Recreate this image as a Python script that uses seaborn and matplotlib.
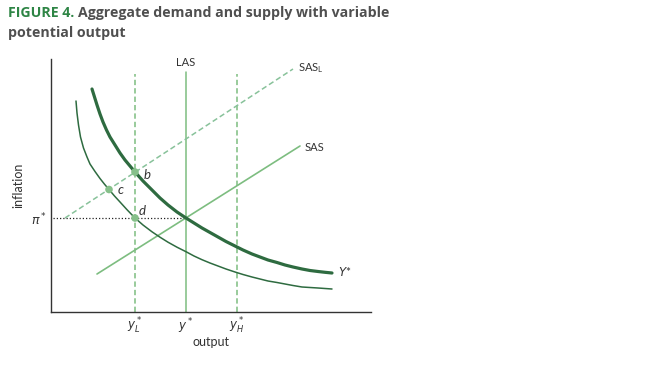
import matplotlib
matplotlib.use("Agg")
import matplotlib.pyplot as plt
import seaborn as sns
import pandas as pd

# chart values (x = output units, y = inflation units)
y_low, y_star, y_high = 84, 135, 186
pi_star = 94

# upper AD curve (Y*)
ad_hi_x = [41, 43.5, 46, 49, 52, 55.5, 59, 64, 69, 74, 79, 84, 92, 101, 109, 117, 126, 135,
           143, 151, 159, 167, 175, 184, 192, 201, 209, 217, 226, 234, 242, 251, 259, 267, 274, 281]
ad_hi_y = [223, 215, 207, 198, 190, 182, 175, 167, 159, 152, 146, 140, 131, 122, 114, 107, 100, 94,
           89, 84, 79.5, 75, 70.5, 66, 62, 58, 55, 52, 49.5, 47, 45, 43, 41.5, 40.5, 39.7, 39]

# lower AD curve
ad_lo_x = [25, 26, 27.5, 29.5, 32.5, 36, 39, 44, 49, 53.5, 58, 63.5, 69, 76, 84, 92, 101, 109, 117,
           126, 135, 143, 151, 159, 167, 175, 184, 192, 201, 209, 217, 226, 234, 242, 251, 259, 267, 274, 281]
ad_lo_y = [211, 199, 187, 175, 164, 155, 148, 140.5, 133.5, 127.8, 122.5, 116, 110, 102.3, 94, 87, 80.2, 74.8, 69.8,
           64.8, 60.3, 56, 52.3, 49, 46, 43, 40, 37.5, 35, 33, 31, 29.5, 28, 26.5, 25, 24.5, 24, 23.5, 23]

# supply lines (end points)
sas_x = [46, 249]
sas_y = [38, 166]
sasl_x = [14, 242]
sasl_y = [94, 243]
vert_top = [238, 240, 238]

# labelled points
pt_labels = ["b", "c", "d"]
pt_x = [84, 58, 84]
pt_y = [140, 122.5, 94]

dark = "#2e6b40"
light = "#7dbd80"
light_dash = "#88c29a"
txt = "#333333"

sns.set_style("white")
plt.rcParams["font.family"] = ["Lato", "DejaVu Sans"]
plt.rcParams["mathtext.fontset"] = "dejavusans"

fig = plt.figure(figsize=(6.66, 3.84), dpi=100)
ax = fig.add_axes([51 / 666, 72 / 384, 320 / 666, 253 / 384])

hi = pd.DataFrame({"x": ad_hi_x, "y": ad_hi_y})
lo = pd.DataFrame({"x": ad_lo_x, "y": ad_lo_y})
sas = pd.DataFrame({"x": sas_x, "y": sas_y})
sasl = pd.DataFrame({"x": sasl_x, "y": sasl_y})

# verticals: potential output lines
for xv, top, solid in zip([y_low, y_star, y_high], vert_top, [False, True, False]):
    v = pd.DataFrame({"x": [xv, xv], "y": [0, top]})
    sns.lineplot(data=v, x="x", y="y", ax=ax, color=light, lw=1.1,
                 sort=False, estimator=None,
                 linestyle="-" if solid else (0, (3.5, 2)))

# pi* dotted
pi_df = pd.DataFrame({"x": [2, y_star], "y": [pi_star, pi_star]})
sns.lineplot(data=pi_df, x="x", y="y", ax=ax, color="#222222", lw=0.9,
             linestyle=(0, (1, 1.6)), sort=False, estimator=None)

sns.lineplot(data=sasl, x="x", y="y", ax=ax, color=light_dash, lw=1.1,
             linestyle=(0, (3.5, 2)), sort=False, estimator=None)
sns.lineplot(data=sas, x="x", y="y", ax=ax, color=light, lw=1.2,
             sort=False, estimator=None)
sns.lineplot(data=lo, x="x", y="y", ax=ax, color=dark, lw=1.1,
             sort=False, estimator=None, solid_joinstyle="round")
sns.lineplot(data=hi, x="x", y="y", ax=ax, color=dark, lw=2.3,
             sort=False, estimator=None, solid_joinstyle="round")

pts = pd.DataFrame({"x": pt_x, "y": pt_y, "lab": pt_labels})
sns.scatterplot(data=pts, x="x", y="y", ax=ax, color="#86c08a", s=30,
                edgecolor="none", zorder=5)
offsets = {"b": (8.4, -2.2), "c": (8.4, 0), "d": (5.3, 5.2)}
for lab, px, py in zip(pt_labels, pt_x, pt_y):
    ax.annotate(lab, (px, py), xytext=offsets[lab], textcoords="offset points",
                ha="center", va="center", fontsize=9.5, style="italic", color=txt)

# line labels
ax.text(y_star, 249, "LAS", ha="center", va="center", fontsize=8, color=txt)
ax.text(247, 244, r"SAS$_\mathregular{L}$", ha="left", va="center", fontsize=8, color=txt)
ax.text(254, 165, "SAS", ha="left", va="center", fontsize=8, color=txt)
ax.text(287, 40, "$Y$*", ha="left", va="center", fontsize=8.5, color=txt)

ax.set_xlim(0, 320)
ax.set_ylim(0, 253)
ax.set_xticks([y_low, y_star, y_high])
ax.set_xticklabels([r"$y^*_L$", r"$y^*$", r"$y^*_H$"], fontsize=8.5, color=txt)
ax.set_yticks([pi_star])
ax.set_yticklabels([r"$\pi^*$"], fontsize=9, color=txt)
ax.tick_params(length=0, pad=3)
ax.set_xlabel("output", fontsize=9, color=txt, labelpad=0)
ax.set_ylabel("inflation", fontsize=9, color=txt, labelpad=5)
sns.despine(ax=ax)
for s in ["left", "bottom"]:
    ax.spines[s].set_color(txt)
    ax.spines[s].set_linewidth(1.0)

# two-colour title
tfont = ["Open Sans", "DejaVu Sans"]
t1 = fig.text(8 / 666, 1 - 17 / 384, "FIGURE 4.", fontsize=10.2, fontweight="bold",
              color="#2e8545", va="baseline", family=tfont)
fig.canvas.draw()
bb = t1.get_window_extent()
fig.text((bb.x1 + 4) / 666, 1 - 17 / 384, "Aggregate demand and supply with variable",
         fontsize=10.2, fontweight="bold", color="#4f4f4f", va="baseline", family=tfont)
fig.text(8 / 666, 1 - 37 / 384, "potential output", fontsize=10.2, fontweight="bold",
         color="#4f4f4f", va="baseline", family=tfont)

fig.savefig("out.png", dpi=100)
